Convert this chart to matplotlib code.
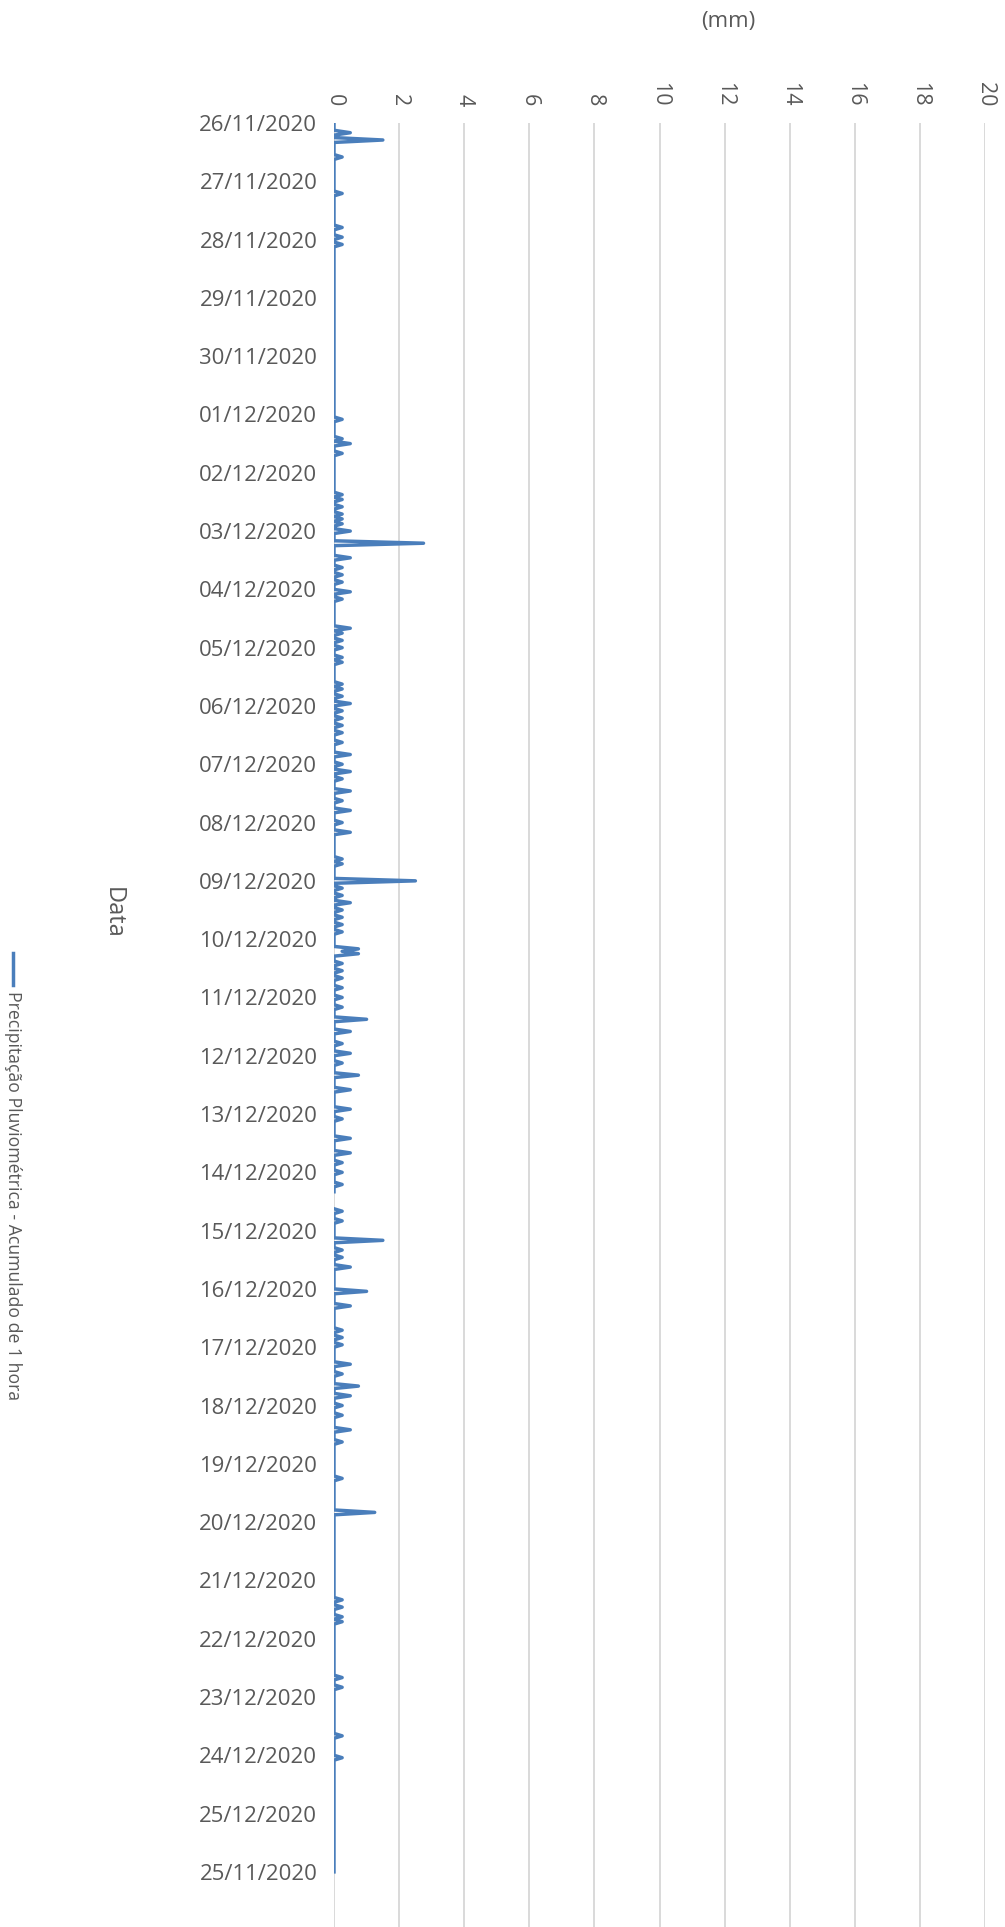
import numpy as np
import matplotlib
matplotlib.use("Agg")
import matplotlib.pyplot as plt
from matplotlib.lines import Line2D

plt.rcParams['font.family'] = ['Open Sans', 'DejaVu Sans']

# ---- data (hourly series, 26/11/2020 00h ... 721 points) ----
n_hours = 721
rain_hour = [4, 7, 14, 29, 43, 47, 50, 122, 130, 132, 136,
             153, 155, 158, 161, 163, 165, 168, 173, 179, 183, 186, 189, 193, 196,
             208, 210, 213, 216, 220, 222, 231, 233, 236, 239, 242, 245, 248, 251,
             255, 260, 264, 267, 270, 275, 279, 283, 288, 292, 303, 305, 312,
             315, 318, 321, 324, 327, 330, 333, 340, 341, 342, 346, 349, 352, 356,
             360, 364, 369, 374, 379, 383, 387, 392, 398, 406, 410, 418, 424,
             428, 432, 437, 448, 452, 460, 464, 467, 471, 481, 487, 497, 500, 503,
             511, 515, 520, 524, 528, 532, 538, 543, 558, 572,
             608, 611, 615, 617, 640, 644, 664, 673]
rain_mm = [0.5, 1.5, 0.25, 0.25, 0.25, 0.25, 0.25, 0.25, 0.25, 0.5, 0.25,
           0.25, 0.25, 0.25, 0.25, 0.25, 0.25, 0.5, 2.75, 0.5, 0.25, 0.25, 0.25, 0.5, 0.25,
           0.5, 0.25, 0.25, 0.25, 0.25, 0.25, 0.25, 0.25, 0.25, 0.5, 0.25, 0.25, 0.25, 0.25,
           0.25, 0.5, 0.25, 0.5, 0.25, 0.5, 0.25, 0.5, 0.25, 0.5, 0.25, 0.25, 2.5,
           0.25, 0.25, 0.5, 0.25, 0.25, 0.25, 0.25, 0.75, 0.25, 0.75, 0.25, 0.25, 0.25, 0.25,
           0.25, 0.25, 1.0, 0.5, 0.25, 0.5, 0.25, 0.75, 0.5, 0.5, 0.25, 0.5, 0.5,
           0.25, 0.25, 0.25, 0.25, 0.25, 1.5, 0.25, 0.25, 0.5, 1.0, 0.5, 0.25, 0.25, 0.25,
           0.5, 0.25, 0.75, 0.5, 0.25, 0.25, 0.5, 0.25, 0.25, 1.25,
           0.25, 0.25, 0.25, 0.25, 0.25, 0.25, 0.25, 0.25]
missing_hour = [441, 442, 443, 444, 445, 446]

date_labels = ['26/11/2020', '27/11/2020', '28/11/2020', '29/11/2020', '30/11/2020',
               '01/12/2020', '02/12/2020', '03/12/2020', '04/12/2020', '05/12/2020',
               '06/12/2020', '07/12/2020', '08/12/2020', '09/12/2020', '10/12/2020',
               '11/12/2020', '12/12/2020', '13/12/2020', '14/12/2020', '15/12/2020',
               '16/12/2020', '17/12/2020', '18/12/2020', '19/12/2020', '20/12/2020',
               '21/12/2020', '22/12/2020', '23/12/2020', '24/12/2020', '25/12/2020',
               '25/11/2020']
value_ticks = [0, 2, 4, 6, 8, 10, 12, 14, 16, 18, 20]

series_name = 'Precipitação Pluviométrica - Acumulado de 1 hora'

hours = np.arange(n_hours)
values = np.zeros(n_hours)
values[rain_hour] = rain_mm
values[missing_hour] = np.nan

# ---- figure ----
W, H = 1005, 1927
fig = plt.figure(figsize=(W / 100, H / 100), dpi=100)
px_per_hour = 2.429
top_px, left_px, right_px = 123, 334, 985
ax = fig.add_axes([left_px / W, 0, (right_px - left_px) / W, (H - top_px) / H])

line_color = '#4A7EBB'
text_color = '#595959'

ax.plot(values, hours, color=line_color, lw=2.5, solid_joinstyle='round', zorder=3)
ax.set_xlim(0, 20)
ax.set_ylim((H - top_px) / px_per_hour, 0)

for s in ax.spines.values():
    s.set_visible(False)

ax.set_xticks(value_ticks)
ax.set_xticklabels([str(v) for v in value_ticks])
ax.xaxis.tick_top()
ax.tick_params(axis='x', length=0, pad=12, labelsize=15.4, labelcolor=text_color,
               labelrotation=-90)
ax.grid(axis='x', color='#D9D9D9', lw=1.4, zorder=0)

ax.set_yticks(np.arange(0, n_hours, 24))
ax.set_yticklabels(date_labels)
ax.tick_params(axis='y', length=0, pad=12, labelsize=15.9, labelcolor=text_color)

fig.text(728 / W, 1 - 22 / H, '(mm)', ha='center', va='center', fontsize=16, color=text_color)
fig.text(113 / W, 1 - 913 / H, 'Data', rotation=-90, ha='center', va='center',
         fontsize=17, color=text_color)

fig.add_artist(Line2D([13 / W, 13 / W], [1 - 953 / H, 1 - 985 / H], color=line_color, lw=2.5))
fig.text(13 / W, 1 - 991 / H, series_name, rotation=-90, ha='center', va='top',
         fontsize=12.7, color=text_color)

fig.savefig('out.png', dpi=100, facecolor='white')
